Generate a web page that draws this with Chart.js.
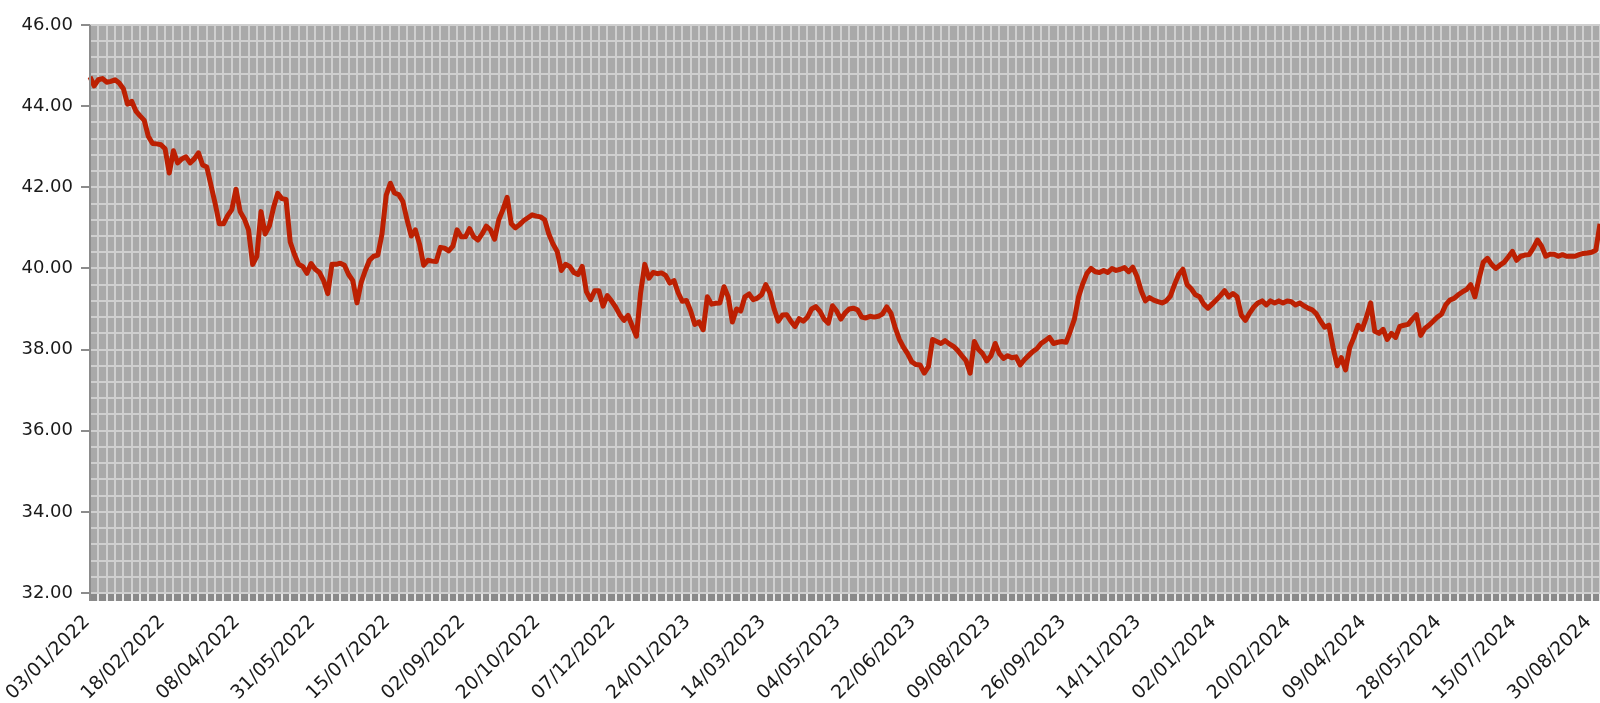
<!DOCTYPE html>
<html>
<head>
<meta charset="utf-8">
<script src="https://cdn.jsdelivr.net/npm/chart.js@4.4.1/dist/chart.umd.min.js"></script>
<style>
  html, body { margin: 0; padding: 0; background: #ffffff; }
  #wrap { position: relative; width: 1600px; height: 703px; }
</style>
</head>
<body>
<div id="wrap"><canvas id="c" width="1600" height="703"></canvas></div>
<script>
// ---- data ----
const tickLabels = [
  "03/01/2022","18/02/2022","08/04/2022","31/05/2022","15/07/2022","02/09/2022",
  "20/10/2022","07/12/2022","24/01/2023","14/03/2023","04/05/2023","22/06/2023",
  "09/08/2023","26/09/2023","14/11/2023","02/01/2024","20/02/2024","09/04/2024",
  "28/05/2024","15/07/2024","30/08/2024"
];
const pointsPerLabel = 18;

const values2022a = [
  44.72,44.50,44.65,44.68,44.59,44.61,44.65,44.57,44.43,44.05,44.12,43.88,43.76,43.65,43.25,43.08,43.07,43.05,
  42.95,42.35,42.90,42.60,42.70,42.75,42.60,42.70,42.85,42.55,42.50,42.05,41.60,41.10,41.10,41.30,41.45,41.95,
  41.40,41.22,40.95,40.10,40.30,41.40,40.85,41.05,41.50,41.85,41.72,41.70,40.65,40.35,40.10,40.05,39.88,40.12,
  39.98,39.90,39.70,39.38,40.10,40.10,40.13,40.08,39.85,39.70,39.15,39.65,39.95,40.20,40.30,40.33,40.85,41.80
];
const values2022b = [
  42.10,41.86,41.82,41.65,41.20,40.80,40.95,40.60,40.08,40.20,40.18,40.17,40.52,40.50,40.43,40.55,40.95,40.78,
  40.78,40.98,40.78,40.70,40.85,41.04,40.95,40.72,41.20,41.45,41.75,41.10,41.00,41.08,41.18,41.25,41.32,41.29,
  41.27,41.20,40.85,40.60,40.42,39.95,40.10,40.05,39.90,39.85,40.05,39.43,39.23,39.45,39.45,39.07,39.33,39.20,
  39.05,38.86,38.72,38.84,38.58,38.33,39.40,40.10,39.76,39.90,39.87,39.89,39.83,39.64,39.70,39.40,39.19,39.21
];
const values2023a = [
  38.95,38.62,38.68,38.49,39.30,39.12,39.14,39.15,39.55,39.30,38.68,39.00,38.95,39.30,39.37,39.23,39.27,39.35,
  39.60,39.40,39.00,38.70,38.85,38.86,38.70,38.57,38.76,38.70,38.80,39.00,39.06,38.94,38.75,38.65,39.08,38.95,
  38.75,38.90,39.00,39.02,38.98,38.80,38.78,38.82,38.80,38.82,38.88,39.05,38.90,38.55,38.26,38.06,37.90,37.70,
  37.63,37.62,37.42,37.58,38.25,38.20,38.15,38.22,38.14,38.08,37.98,37.85,37.73,37.42
];
const values2023b = [
  38.20,38.00,37.90,37.72,37.85,38.15,37.90,37.78,37.85,37.80,37.82,37.62,37.75,37.85,37.95,38.02,38.15,38.22,
  38.30,38.15,38.18,38.20,38.18,38.45,38.75,39.30,39.62,39.88,40.00,39.92,39.90,39.95,39.90,40.00,39.95,39.98,
  40.02,39.92,40.03,39.80,39.45,39.20,39.28,39.22,39.18,39.15,39.20,39.32,39.60,39.85,39.98,39.60,39.50,39.35,
  39.30,39.12,39.02,39.12,39.22,39.33,39.45,39.30,39.38,39.30,38.85,38.72,38.90,39.05,39.15,39.20,39.10,39.20
];
const values2024 = [
  39.15,39.20,39.15,39.20,39.18,39.10,39.15,39.08,39.02,38.98,38.88,38.70,38.55,38.60,38.05,37.60,37.80,37.50,
  38.05,38.30,38.60,38.50,38.80,39.15,38.45,38.40,38.50,38.25,38.40,38.30,38.57,38.60,38.62,38.75,38.86,38.35,
  38.52,38.60,38.70,38.80,38.87,39.10,39.22,39.26,39.35,39.42,39.48,39.60,39.30,39.75,40.15,40.25,40.10,40.00,
  40.08,40.15,40.28,40.42,40.20,40.30,40.33,40.34,40.50,40.70,40.55,40.30,40.35,40.35,40.30,40.34,40.30,40.30,
  40.30,40.34,40.37,40.38,40.40,40.45,41.10
];
const yTickLabelsEvery = 2;   // labelled y values: 32, 34, ... 46
const yMin = 32, yMax = 46, yMinorStep = 0.4;

// ---- build ----
const series = [].concat(values2022a, values2022b, values2023a, values2023b, values2024);
const categories = series.map((_, i) => (i % pointsPerLabel === 0 && tickLabels[i / pointsPerLabel]) ? tickLabels[i / pointsPerLabel] : '');

const FONT = 'DejaVu Sans';
const isMajorY = v => Math.abs(v / yTickLabelsEvery - Math.round(v / yTickLabelsEvery)) < 1e-6;

const bandPlugin = {
  id: 'plotBg',
  beforeDraw(chart) {
    const {ctx, chartArea: a} = chart;
    ctx.save();
    ctx.fillStyle = '#a9a9a9';
    ctx.fillRect(a.left, a.top, a.right - a.left, a.bottom - a.top);
    ctx.fillStyle = '#8a8a8a';
    ctx.fillRect(a.left, a.bottom, a.right - a.left, 8);
    ctx.restore();
  },
  afterDatasetsDraw(chart) {
    const {ctx, chartArea: a} = chart;
    ctx.save();
    ctx.strokeStyle = '#8c8c8c';
    ctx.lineWidth = 2;
    ctx.beginPath();
    ctx.moveTo(a.left, a.top);
    ctx.lineTo(a.left, a.bottom + 8);
    ctx.stroke();
    ctx.restore();
  }
};

new Chart(document.getElementById('c'), {
  type: 'line',
  data: {
    labels: categories,
    datasets: [{
      data: series,
      borderColor: '#bc2002',
      borderWidth: 5,
      pointRadius: 0,
      tension: 0,
      fill: false,
      borderJoinStyle: 'round',
      clip: false
    }]
  },
  options: {
    responsive: false,
    animation: false,
    devicePixelRatio: 1,
    layout: { padding: { top: 25, right: 0, left: 0, bottom: 0 } },
    plugins: { legend: { display: false }, tooltip: { enabled: false }, title: { display: false } },
    scales: {
      x: {
        type: 'category',
        offset: false,
        grid: {
          display: true,
          drawOnChartArea: true,
          drawTicks: true,
          tickLength: 8,
          lineWidth: 2,
          color: c => (c.index % 2 === 0) ? '#cfcfcf' : 'rgba(0,0,0,0)',
          tickColor: c => (c.index % 2 === 0) ? '#e8e8e8' : 'rgba(0,0,0,0)'
        },
        border: { display: false },
        ticks: {
          autoSkip: false,
          minRotation: 45,
          maxRotation: 45,
          padding: 10,
          labelOffset: -3,
          color: '#1a1a1a',
          font: { family: FONT, size: 19 },
          callback: (v, i) => categories[i]
        },
        afterFit: s => { s.height = 110; s.paddingRight = 0; }
      },
      y: {
        min: yMin,
        max: yMax,
        grid: {
          lineWidth: 2,
          color: '#cfcfcf',
          tickLength: 9,
          tickColor: c => isMajorY(c.tick.value) ? '#8c8c8c' : 'rgba(0,0,0,0)'
        },
        border: { display: false },
        ticks: {
          stepSize: yMinorStep,
          autoSkip: false,
          padding: 8,
          color: '#1a1a1a',
          font: { family: FONT, size: 18 },
          callback: v => isMajorY(v) ? v.toFixed(2) : ''
        },
        afterFit: s => { s.width = 90; }
      }
    }
  },
  plugins: [bandPlugin]
});
</script>
</body>
</html>
